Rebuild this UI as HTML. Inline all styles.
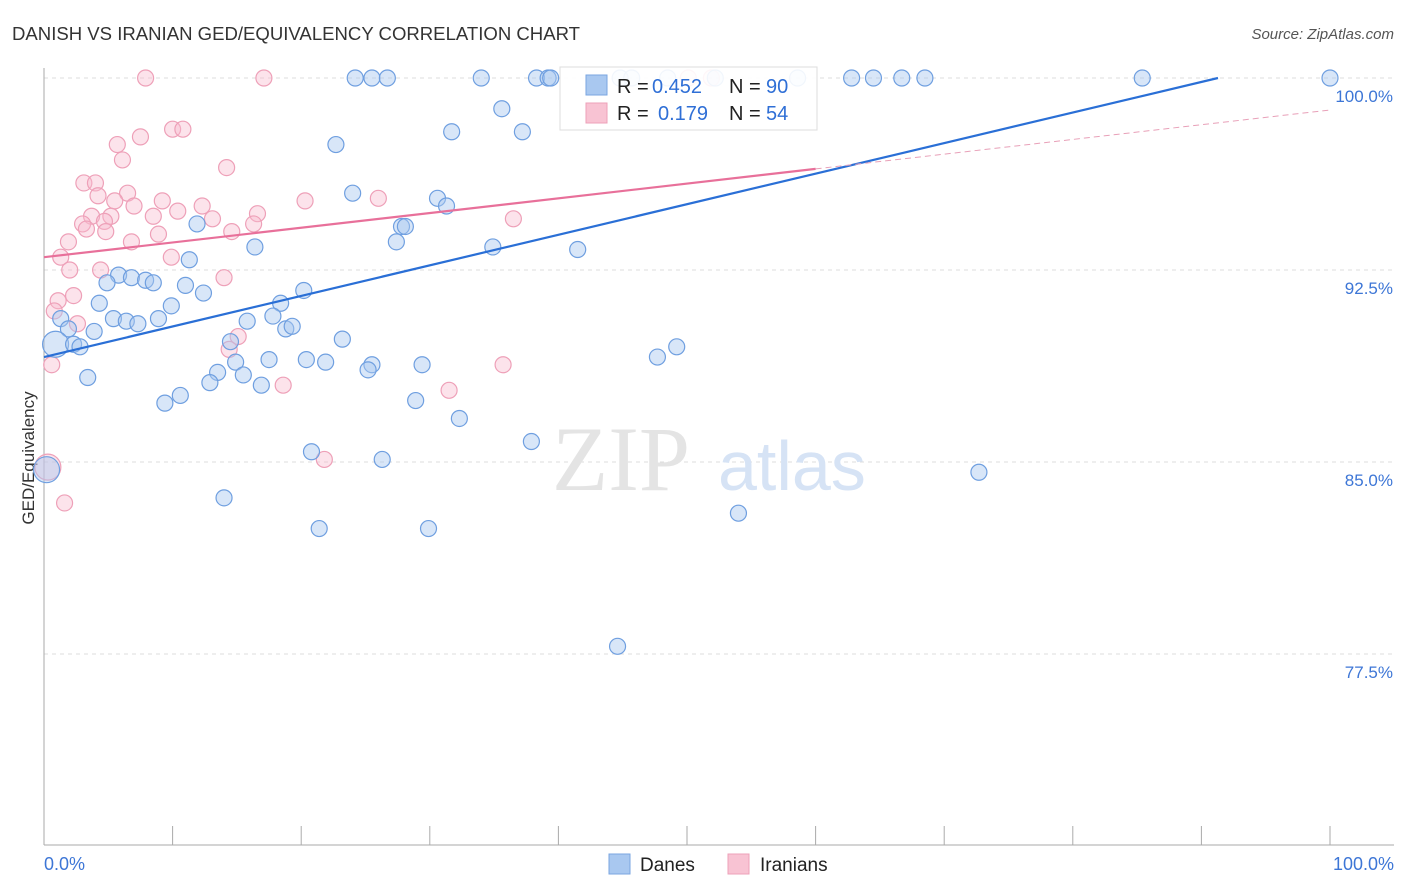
<!DOCTYPE html>
<html><head><meta charset="utf-8"><style>
body{margin:0;background:#fff;font-family:"Liberation Sans",sans-serif;}
svg{display:block}
</style></head><body>
<svg id="chart" width="1406" height="892" xmlns="http://www.w3.org/2000/svg">
<text x="12" y="40" font-size="18" fill="#333" textLength="568" lengthAdjust="spacingAndGlyphs">DANISH VS IRANIAN GED/EQUIVALENCY CORRELATION CHART</text>
<text x="1394" y="39" font-size="15" fill="#555" font-style="italic" text-anchor="end">Source: ZipAtlas.com</text>
<text transform="translate(34,458) rotate(-90)" font-size="17" fill="#333" text-anchor="middle">GED/Equivalency</text>
<g id="grid"></g>
<g><text x="552" y="490" font-size="92" font-family="Liberation Serif,serif" fill="#e4e4e4">ZIP</text><text x="718" y="490" font-size="70" fill="#d6e3f5">atlas</text></g>
<g id="marks"></g>
<g id="lines"></g>
<g>
<rect x="560" y="67" width="257" height="63" fill="#fff" fill-opacity="0.9" stroke="#ddd"/>
<rect x="586" y="75" width="21" height="20" fill="#a9c8f0" stroke="#7aa6e0"/>
<rect x="586" y="103" width="21" height="20" fill="#f8c3d3" stroke="#eea0b8"/>
<text x="617" y="93" font-size="20" fill="#222">R =</text>
<text x="652" y="93" font-size="20" fill="#2f6fd6">0.452</text>
<text x="729" y="93" font-size="20" fill="#222">N =</text>
<text x="766" y="93" font-size="20" fill="#2f6fd6">90</text>
<text x="617" y="120" font-size="20" fill="#222">R =</text>
<text x="658" y="120" font-size="20" fill="#2f6fd6">0.179</text>
<text x="729" y="120" font-size="20" fill="#222">N =</text>
<text x="766" y="120" font-size="20" fill="#2f6fd6">54</text>
</g>
<g>
<rect x="609" y="854" width="21" height="20" fill="#a9c8f0" stroke="#7aa6e0"/>
<text x="640" y="871" font-size="19" fill="#222">Danes</text>
<rect x="728" y="854" width="21" height="20" fill="#f8c3d3" stroke="#eea0b8"/>
<text x="760" y="871" font-size="19" fill="#222">Iranians</text>
</g>
</svg>
<script>
const yTicks=[77.5,85.0,92.5,100.0];
const xTickLabels=["0.0%","100.0%"];
const danesX=[24.2,25.5,26.7,34.0,38.3,39.2,39.4,62.8,64.5,66.7,68.5,85.4,100,44.8,45.7,48.5,52.2,58.6,35.6,31.7,37.2,22.7,24.0,30.6,31.3,11.9,27.8,28.1,27.4,16.4,34.9,41.5,11.3,5.8,6.8,7.9,8.5,4.9,11.0,12.4,20.2,4.3,9.9,18.4,1.3,5.4,6.4,8.9,7.3,15.8,17.8,1.9,3.9,18.8,19.3,23.2,14.5,0.9,2.3,2.8,47.7,49.2,20.4,17.5,21.9,25.5,25.2,29.4,14.9,13.5,15.5,3.4,12.9,16.9,10.6,9.4,28.9,32.3,37.9,20.8,26.3,0.2,72.7,14.0,54.0,21.4,29.9,44.6];
const danesY=[100,100,100,100,100,100,100,100,100,100,100,100,100,100,100,100,100,100,98.8,97.9,97.9,97.4,95.5,95.3,95.0,94.3,94.2,94.2,93.6,93.4,93.4,93.3,92.9,92.3,92.2,92.1,92.0,92.0,91.9,91.6,91.7,91.2,91.1,91.2,90.6,90.6,90.5,90.6,90.4,90.5,90.7,90.2,90.1,90.2,90.3,89.8,89.7,89.6,89.6,89.5,89.1,89.5,89.0,89.0,88.9,88.8,88.6,88.8,88.9,88.5,88.4,88.3,88.1,88.0,87.6,87.3,87.4,86.7,85.8,85.4,85.1,84.7,84.6,83.6,83.0,82.4,82.4,77.8];
const danesBig=[57,81];
const iranX=[7.9,17.1,51.9,50.1,7.5,10.0,10.8,5.7,6.1,14.2,3.1,4.0,6.5,4.2,9.2,5.5,12.3,7.0,20.3,26.0,16.6,5.2,3.7,8.5,10.4,13.1,3.0,4.7,16.3,3.3,4.8,14.6,8.9,36.5,1.9,6.8,1.3,9.9,2.0,4.4,14.0,1.1,2.3,0.8,2.6,15.1,14.4,0.6,18.6,31.5,35.7,21.8,1.6,0.3];
const iranY=[100,100,100,100,97.7,98.0,98.0,97.4,96.8,96.5,95.9,95.9,95.5,95.4,95.2,95.2,95.0,95.0,95.2,95.3,94.7,94.6,94.6,94.6,94.8,94.5,94.3,94.4,94.3,94.1,94.0,94.0,93.9,94.5,93.6,93.6,93.0,93.0,92.5,92.5,92.2,91.3,91.5,90.9,90.4,89.9,89.4,88.8,88.0,87.8,88.8,85.1,83.4,84.8];
const iranBig=[53];
const danesTrend=[89.1,101.04];
const iranTrend=[93.0,98.75];
const NS="http://www.w3.org/2000/svg";
const X=v=>44+v*12.86, Y=v=>78+(100-v)*25.6;
function mk(t,a,p){const e=document.createElementNS(NS,t);for(const k in a)e.setAttribute(k,a[k]);p.appendChild(e);return e;}
const grid=document.getElementById('grid');
yTicks.forEach(t=>{
 const l=mk('line',{x1:44,x2:1394,y1:Y(t),y2:Y(t),stroke:'#ddd','stroke-dasharray':'4,4'},grid);
 
 
 const tx=mk('text',{x:1393,y:Y(t)+24,'font-size':17,fill:'#3d76d6','text-anchor':'end'},grid);
 tx.textContent=t.toFixed(1)+'%';
 
 
});
mk('line',{x1:44,x2:44,y1:68,y2:845,stroke:'#aaa'},grid);
mk('line',{x1:44,x2:1394,y1:845,y2:845,stroke:'#aaa'},grid);
for(let i=0;i<=10;i++){mk('line',{x1:X(i*10),x2:X(i*10),y1:826,y2:845,stroke:'#aaa'},grid);}
const xl0=mk('text',{x:44,y:870,'font-size':18,fill:'#3d76d6'},grid);xl0.textContent=xTickLabels[0];


const xl1=mk('text',{x:1394,y:870,'font-size':18,fill:'#3d76d6','text-anchor':'end'},grid);xl1.textContent=xTickLabels[1];


const marks=document.getElementById('marks');
iranX.forEach((x,i)=>{
 const c=mk('circle',{cx:X(x),cy:Y(iranY[i]),r:iranBig.includes(i)?13:8,fill:'#f8b8cc','fill-opacity':0.4,stroke:'#eea0b8','stroke-width':1.2},marks);
 
 
});
danesX.forEach((x,i)=>{
 const c=mk('circle',{cx:X(x),cy:Y(danesY[i]),r:danesBig.includes(i)?13:8,fill:'#a9c8f0','fill-opacity':0.45,stroke:'#6f9fe0','stroke-width':1.2},marks);
 
 
});
const lines=document.getElementById('lines');
const db=(100-danesTrend[0])/(danesTrend[1]-danesTrend[0])*100;
const dl=mk('line',{x1:X(0),y1:Y(danesTrend[0]),x2:X(db),y2:Y(100),stroke:'#2a6fd6','stroke-width':2.2},lines);


const iy=x=>iranTrend[0]+(iranTrend[1]-iranTrend[0])*x/100;
const il=mk('line',{x1:X(0),y1:Y(iy(0)),x2:X(60),y2:Y(iy(60)),stroke:'#e8709a','stroke-width':2.2},lines);


const il2=mk('line',{x1:X(60),y1:Y(iy(60)),x2:X(100),y2:Y(iy(100)),stroke:'#e8a0b8','stroke-width':1,'stroke-dasharray':'6,4'},lines);


</script>
</body></html>
